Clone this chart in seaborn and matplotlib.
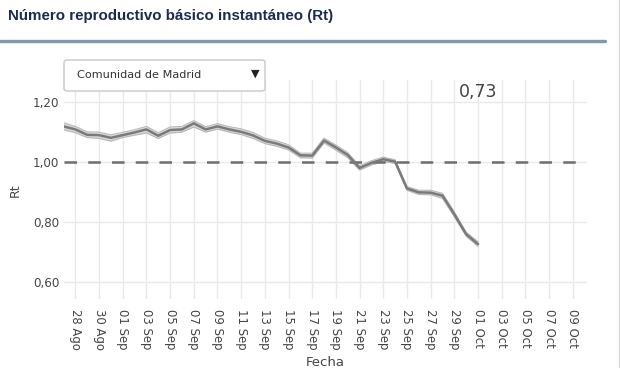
import numpy as np
import pandas as pd
import matplotlib
matplotlib.use("Agg")
import matplotlib.pyplot as plt
import matplotlib.dates as mdates
from matplotlib.patches import FancyBboxPatch
from matplotlib.lines import Line2D
import seaborn as sns

# ---------------- data ----------------
start_date = "2020-08-27"
rt_values = [1.118, 1.108, 1.090, 1.089, 1.080, 1.089, 1.098, 1.108, 1.087, 1.106,
             1.108, 1.128, 1.108, 1.118, 1.108, 1.100, 1.088, 1.070, 1.061, 1.048,
             1.022, 1.021, 1.071, 1.048, 1.023, 0.980, 0.997, 1.009, 1.001, 0.912,
             0.899, 0.898, 0.888, 0.826, 0.760, 0.727]
rt_lower = [1.107, 1.097, 1.081, 1.078, 1.069, 1.081, 1.089, 1.096, 1.078, 1.096,
            1.099, 1.116, 1.099, 1.109, 1.099, 1.091, 1.078, 1.061, 1.052, 1.040,
            1.014, 1.013, 1.063, 1.039, 1.014, 0.973, 0.990, 1.002, 0.995, 0.906,
            0.892, 0.891, 0.879, 0.818, 0.753, 0.720]
rt_upper = [1.130, 1.118, 1.100, 1.099, 1.090, 1.098, 1.107, 1.118, 1.097, 1.116,
            1.118, 1.137, 1.117, 1.127, 1.117, 1.110, 1.098, 1.079, 1.070, 1.057,
            1.029, 1.029, 1.079, 1.056, 1.031, 0.987, 1.004, 1.016, 1.007, 0.918,
            0.906, 0.906, 0.896, 0.834, 0.767, 0.735]
tick_dates = ["2020-08-28", "2020-08-30", "2020-09-01", "2020-09-03", "2020-09-05",
              "2020-09-07", "2020-09-09", "2020-09-11", "2020-09-13", "2020-09-15",
              "2020-09-17", "2020-09-19", "2020-09-21", "2020-09-23", "2020-09-25",
              "2020-09-27", "2020-09-29", "2020-10-01", "2020-10-03", "2020-10-05",
              "2020-10-07", "2020-10-09"]
tick_labels = ["28 Ago", "30 Ago", "01 Sep", "03 Sep", "05 Sep", "07 Sep", "09 Sep",
               "11 Sep", "13 Sep", "15 Sep", "17 Sep", "19 Sep", "21 Sep", "23 Sep",
               "25 Sep", "27 Sep", "29 Sep", "01 Oct", "03 Oct", "05 Oct", "07 Oct",
               "09 Oct"]
y_ticks = [0.60, 0.80, 1.00, 1.20]
y_tick_labels = ["0,60", "0,80", "1,00", "1,20"]
title = "Número reproductivo básico instantáneo (Rt)"
region = "Comunidad de Madrid"
last_label = "0,73"

dates = pd.date_range(start_date, periods=len(rt_values), freq="D")
df = pd.DataFrame({"Fecha": dates, "Rt": rt_values,
                   "lo": rt_lower, "hi": rt_upper})

# ---------------- figure ----------------
sns.set_theme(style="whitegrid")
plt.rcParams["font.family"] = ["DejaVu Sans"]

fig = plt.figure(figsize=(6.2, 3.68), dpi=100)
ax = fig.add_axes([63.5 / 620, 1 - 299 / 368, (587 - 63.5) / 620, (299 - 80) / 368])

ax.fill_between(df["Fecha"], df["lo"], df["hi"], color="#d9d9d9", lw=0, zorder=2)
ax.plot(df["Fecha"], df["lo"], color="#b8b8b8", lw=0.8, zorder=2.5)
ax.plot(df["Fecha"], df["hi"], color="#b8b8b8", lw=0.8, zorder=2.5)
sns.lineplot(data=df, x="Fecha", y="Rt", ax=ax, color="#7a7a7a", lw=1.8, zorder=3)
ax.axhline(1.0, color="#6e6e6e", lw=1.8, ls=(0, (5, 4.5)), zorder=2.8)

ax.set_xlim(pd.Timestamp("2020-08-27"), pd.Timestamp("2020-08-27") + pd.Timedelta(days=44.2))
ax.set_ylim(0.545, 1.272)
ax.set_xticks(pd.to_datetime(tick_dates))
ax.set_xticklabels(tick_labels, rotation=-90, fontsize=8.4, color="#444444")
ax.set_yticks(y_ticks)
ax.set_yticklabels(y_tick_labels, fontsize=8.6, color="#444444")
ax.tick_params(axis="both", length=0, pad=3)
ax.tick_params(axis="x", pad=7)
ax.grid(True, color="#e9e9e9", lw=1)
for s in ax.spines.values():
    s.set_visible(False)
ax.set_xlabel("Fecha", fontsize=9.5, color="#444444", labelpad=2)
ax.xaxis.set_label_coords((325 - 63.5) / (587 - 63.5), -(356 - 299) / (299 - 80))
ax.set_ylabel("Rt", fontsize=9, color="#444444")
ax.yaxis.set_label_coords(-(63.5 - 22) / (587 - 63.5), (299 - 190) / (299 - 80))

ax.text(pd.Timestamp("2020-10-01"), 1.233, last_label, ha="center", va="center",
        fontsize=12.5, color="#444444")

# title & decoration
fig.text(8 / 620, 1 - 16 / 368, title, ha="left", va="center", fontsize=10.9,
         fontweight="bold", color="#1c2b4f", family=["Liberation Sans", "DejaVu Sans"])
fig.add_artist(Line2D([0, 605 / 620], [1 - 40.5 / 368] * 2, color="#8196b0", lw=2.4))
fig.add_artist(Line2D([619 / 620] * 2, [0, 1], color="#dcdcdc", lw=1))

box = FancyBboxPatch((64 / 620, 1 - 91 / 368), (265 - 64) / 620, 31 / 368,
                     boxstyle="round,pad=0,rounding_size=0.006",
                     transform=fig.transFigure, facecolor="white",
                     edgecolor="#c8c8c8", lw=1)
fig.add_artist(box)
fig.text(77 / 620, 1 - 74.5 / 368, region, ha="left", va="center", fontsize=8.1,
         color="#333333")
fig.text(255 / 620, 1 - 74 / 368, "▼", ha="center", va="center", fontsize=8,
         color="#222222")

fig.savefig("out.png", dpi=100)
